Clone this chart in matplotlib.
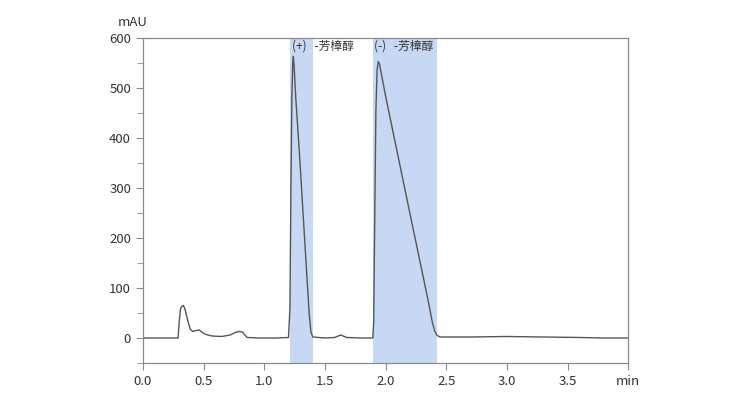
import matplotlib.pyplot as plt
from matplotlib.ticker import MultipleLocator

plt.rcParams['font.family'] = ['Noto Sans CJK SC', 'DejaVu Sans']

# chromatogram trace (time in min, signal in mAU)
t = [0.00, 0.29, 0.300, 0.310, 0.320, 0.333, 0.345, 0.36, 0.375, 0.39, 0.41, 0.44, 0.466, 0.49,
     0.52, 0.57, 0.65, 0.72, 0.76, 0.79, 0.82, 0.84, 0.86, 0.95, 1.10, 1.20, 1.212, 1.220,
     1.228, 1.235, 1.240, 1.246, 1.26, 1.29, 1.32, 1.35, 1.37, 1.385, 1.40, 1.50, 1.58, 1.63,
     1.68, 1.80, 1.895, 1.902, 1.910, 1.920, 1.930, 1.940, 1.950, 2.00, 2.10, 2.20, 2.30,
     2.36, 2.385, 2.405, 2.425, 2.45, 2.50, 2.70, 3.00, 3.30, 3.60, 3.80, 4.00]
mau = [0, 0, 35, 58, 63, 65, 59, 45, 30, 18, 13, 15, 16, 11,
       7, 4, 3, 6, 11, 13, 12, 6, 1, 0, 0, 1, 60, 300,
       480, 550, 563, 545, 480, 370, 250, 130, 50, 12, 2, 0, 1, 6,
       1, 0, 0, 30, 220, 450, 535, 553, 548, 484, 367, 250, 134,
       64, 32, 14, 5, 2, 2, 2, 3, 2, 1, 0, 0]

bands = [(1.215, 1.40), (1.893, 2.425)]
labels = ['(+)   -芳樟醇', '(-)   -芳樟醇']
label_x = [1.232, 1.905]

fig = plt.figure(figsize=(7.56, 3.95), dpi=100)
ax = fig.add_axes([0.189, 0.081, 0.642, 0.823])

for (a, b) in bands:
    ax.axvspan(a, b, color='#c6d8f4', lw=0, zorder=0)
ax.plot(t, mau, color='#555555', lw=1.0, zorder=2)

for x, s in zip(label_x, labels):
    ax.text(x, 583, s, fontsize=8.5, color='#333333', va='center', ha='left')

ax.set_xlim(0, 4.0)
ax.set_ylim(-50, 600)
xt = [0.0, 0.5, 1.0, 1.5, 2.0, 2.5, 3.0, 3.5, 4.0]
ax.set_xticks(xt)
ax.set_xticklabels(['0.0', '0.5', '1.0', '1.5', '2.0', '2.5', '3.0', '3.5', 'min'])
ax.yaxis.set_major_locator(MultipleLocator(100))
ax.yaxis.set_minor_locator(MultipleLocator(50))

for sp in ax.spines.values():
    sp.set_color('#8a8a8a')
    sp.set_linewidth(0.9)
ax.tick_params(axis='both', which='both', direction='out', color='#8a8a8a',
               labelcolor='#333333', labelsize=9.5)
ax.tick_params(axis='both', which='major', length=5)
ax.tick_params(axis='y', which='minor', length=4)

ax.text(-0.08, 618, 'mAU', fontsize=9.5, color='#333333', ha='center', va='bottom')

fig.savefig('out.png', dpi=100)
